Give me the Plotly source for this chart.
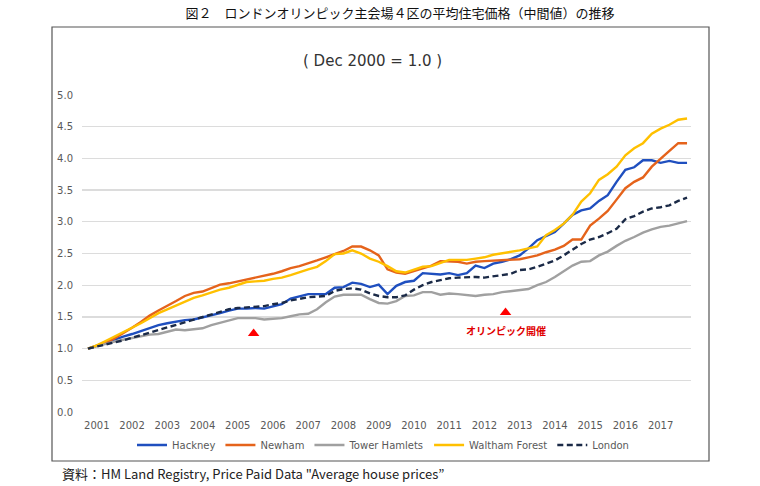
import pandas as pd
import plotly.graph_objects as go

# Quarterly periods, Dec 2000 (=1.0) to Dec 2017
periods = pd.period_range("2000Q4", "2017Q4", freq="Q")

hackney = [1.00, 1.05, 1.10, 1.15, 1.19, 1.23, 1.28, 1.33, 1.37, 1.40,
           1.43, 1.45, 1.46, 1.49, 1.53, 1.56, 1.60, 1.63, 1.63, 1.64,
           1.63, 1.67, 1.70, 1.79, 1.82, 1.86, 1.86, 1.86, 1.96, 1.97,
           2.04, 2.02, 1.97, 2.01, 1.86, 1.99, 2.05, 2.07, 2.19, 2.18,
           2.17, 2.19, 2.16, 2.19, 2.31, 2.27, 2.34, 2.37, 2.41, 2.47,
           2.58, 2.71, 2.77, 2.84, 2.97, 3.11, 3.18, 3.21, 3.33, 3.42,
           3.63, 3.82, 3.86, 3.97, 3.97, 3.93, 3.96, 3.93, 3.93]

newham = [1.00, 1.04, 1.09, 1.16, 1.24, 1.33, 1.42, 1.52, 1.60, 1.67,
          1.75, 1.83, 1.88, 1.90, 1.95, 2.01, 2.03, 2.06, 2.08, 2.12,
          2.15, 2.18, 2.22, 2.27, 2.30, 2.34, 2.39, 2.44, 2.49, 2.54,
          2.61, 2.61, 2.55, 2.47, 2.25, 2.20, 2.18, 2.22, 2.27, 2.31,
          2.38, 2.38, 2.37, 2.34, 2.37, 2.38, 2.39, 2.39, 2.40, 2.41,
          2.44, 2.47, 2.52, 2.56, 2.62, 2.72, 2.72, 2.94, 3.05, 3.17,
          3.35, 3.53, 3.63, 3.70, 3.87, 4.00, 4.12, 4.24, 4.24]

tower_hamlets = [1.00, 1.04, 1.08, 1.11, 1.14, 1.17, 1.20, 1.22, 1.23, 1.26,
                 1.30, 1.29, 1.31, 1.32, 1.37, 1.41, 1.44, 1.48, 1.48, 1.48,
                 1.46, 1.47, 1.48, 1.51, 1.54, 1.55, 1.62, 1.73, 1.82, 1.85,
                 1.85, 1.85, 1.78, 1.72, 1.71, 1.75, 1.83, 1.84, 1.89, 1.89,
                 1.85, 1.87, 1.86, 1.85, 1.83, 1.85, 1.86, 1.89, 1.91, 1.93,
                 1.94, 2.00, 2.05, 2.13, 2.22, 2.31, 2.37, 2.38, 2.47, 2.53,
                 2.62, 2.70, 2.76, 2.83, 2.88, 2.92, 2.94, 2.97, 3.01]

waltham_forest = [1.00, 1.05, 1.12, 1.19, 1.25, 1.32, 1.40, 1.48, 1.56, 1.62,
                  1.68, 1.74, 1.80, 1.84, 1.89, 1.93, 1.96, 2.00, 2.05, 2.06,
                  2.07, 2.10, 2.12, 2.16, 2.21, 2.25, 2.29, 2.38, 2.49, 2.50,
                  2.55, 2.50, 2.42, 2.37, 2.30, 2.22, 2.20, 2.24, 2.29, 2.30,
                  2.35, 2.40, 2.40, 2.40, 2.42, 2.44, 2.48, 2.50, 2.53, 2.55,
                  2.58, 2.61, 2.79, 2.87, 2.97, 3.11, 3.32, 3.45, 3.66, 3.75,
                  3.87, 4.05, 4.16, 4.24, 4.39, 4.47, 4.53, 4.61, 4.63]

london = [1.00, 1.03, 1.06, 1.09, 1.13, 1.17, 1.21, 1.25, 1.29, 1.34,
          1.38, 1.42, 1.46, 1.50, 1.54, 1.58, 1.62, 1.64, 1.65, 1.66,
          1.67, 1.70, 1.72, 1.76, 1.79, 1.81, 1.82, 1.83, 1.91, 1.94,
          1.95, 1.93, 1.87, 1.83, 1.81, 1.81, 1.84, 1.93, 2.00, 2.05,
          2.08, 2.11, 2.12, 2.13, 2.13, 2.12, 2.14, 2.16, 2.18, 2.24,
          2.25, 2.29, 2.34, 2.39, 2.47, 2.56, 2.65, 2.72, 2.76, 2.82,
          2.89, 3.04, 3.09, 3.16, 3.21, 3.23, 3.26, 3.33, 3.38]

series_names = ["Hackney", "Newham", "Tower Hamlets", "Waltham Forest", "London"]
series_values = [hackney, newham, tower_hamlets, waltham_forest, london]
series_colors = ["#1F4FBF", "#E5631B", "#A0A0A0", "#FFC000", "#1B2A47"]
series_dash = ["solid", "solid", "solid", "solid", "6px,3.5px"]

# event markers (position in quarter index, height)
event_x = [18.8, 47.4]
event_y = [1.24, 1.57]
event_label = "オリンピック開催"
event_label_y = 1.29

x_idx = list(range(len(periods)))
tick_vals = [i for i, p in enumerate(periods) if p.quarter == 1]
tick_text = [str(periods[i].year) for i in tick_vals]

fig = go.Figure()
for name, vals, col, dash in zip(series_names, series_values, series_colors, series_dash):
    fig.add_trace(go.Scatter(
        x=x_idx, y=vals, mode="lines", name=name,
        line=dict(color=col, width=2.4, dash=dash),
    ))

fig.add_trace(go.Scatter(
    x=event_x, y=event_y, mode="markers", showlegend=False,
    marker=dict(symbol="triangle-up", size=10, color="#FF0000"),
))

# body margin is removed in the page (post_script), so figure fills the window
W, H = 760, 486
ml, mt = 82, 95
pw, ph = 609, 317
mr, mb = W - ml - pw, H - mt - ph


def px_x(px):
    return (px - ml) / pw


def px_y(py):
    return (mt + ph - py) / ph


fig.add_annotation(x=event_x[1], y=event_label_y, xref="x", yref="y",
                   text="<b>" + event_label + "</b>", showarrow=False,
                   font=dict(family="Noto Sans CJK JP", size=10, color="#E00000"))

fig.add_annotation(x=px_x(372), y=px_y(61), xref="paper", yref="paper",
                   text="( Dec 2000 = 1.0 )", showarrow=False,
                   xanchor="center", yanchor="middle",
                   font=dict(family="DejaVu Sans", size=15, color="#333333"))

fig.add_annotation(x=px_x(60), y=px_y(473), xref="paper", yref="paper",
                   text="資料：HM Land Registry, Price Paid Data \"Average house prices”",
                   showarrow=False, xanchor="left", yanchor="middle",
                   font=dict(family="Noto Sans CJK JP", size=13, color="#222222"))

fig.add_shape(type="rect", xref="paper", yref="paper",
              x0=px_x(52), x1=px_x(709), y0=px_y(461), y1=px_y(27),
              line=dict(color="#555555", width=1.2), fillcolor="rgba(0,0,0,0)",
              layer="below")

fig.update_layout(
    width=W, height=H,
    margin=dict(l=ml, r=mr, t=mt, b=mb),
    paper_bgcolor="white", plot_bgcolor="white",
    hovermode=False,
    title=dict(text="図２　ロンドンオリンピック主会場４区の平均住宅価格（中間値）の推移",
               x=400 / W, y=1 - 13 / H, xanchor="center", yanchor="middle",
               font=dict(family="Noto Sans CJK JP", size=13, color="#111111")),
    legend=dict(orientation="h", x=px_x(383), xanchor="center",
                y=px_y(445), yanchor="middle",
                font=dict(family="DejaVu Sans", size=10, color="#595959"),
                itemwidth=30, bgcolor="rgba(0,0,0,0)"),
    xaxis=dict(range=[-0.68, 68.45], tickvals=tick_vals, ticktext=tick_text,
               showgrid=False, zeroline=False, showline=False,
               ticks="", ticklabelstandoff=6,
               tickfont=dict(family="DejaVu Sans", size=10, color="#595959")),
    yaxis=dict(range=[0, 5], dtick=0.5, tickformat=".1f",
               showgrid=True, gridcolor="#DCDCDC", gridwidth=1.3,
               zeroline=False, showline=False, ticks="",
               ticklabelstandoff=8,
               tickfont=dict(family="DejaVu Sans", size=10, color="#595959")),
)

fig.write_html("out.html",
               config={"displayModeBar": False, "staticPlot": True},
               post_script="document.body.style.margin='0px';document.body.style.overflow='hidden';")
